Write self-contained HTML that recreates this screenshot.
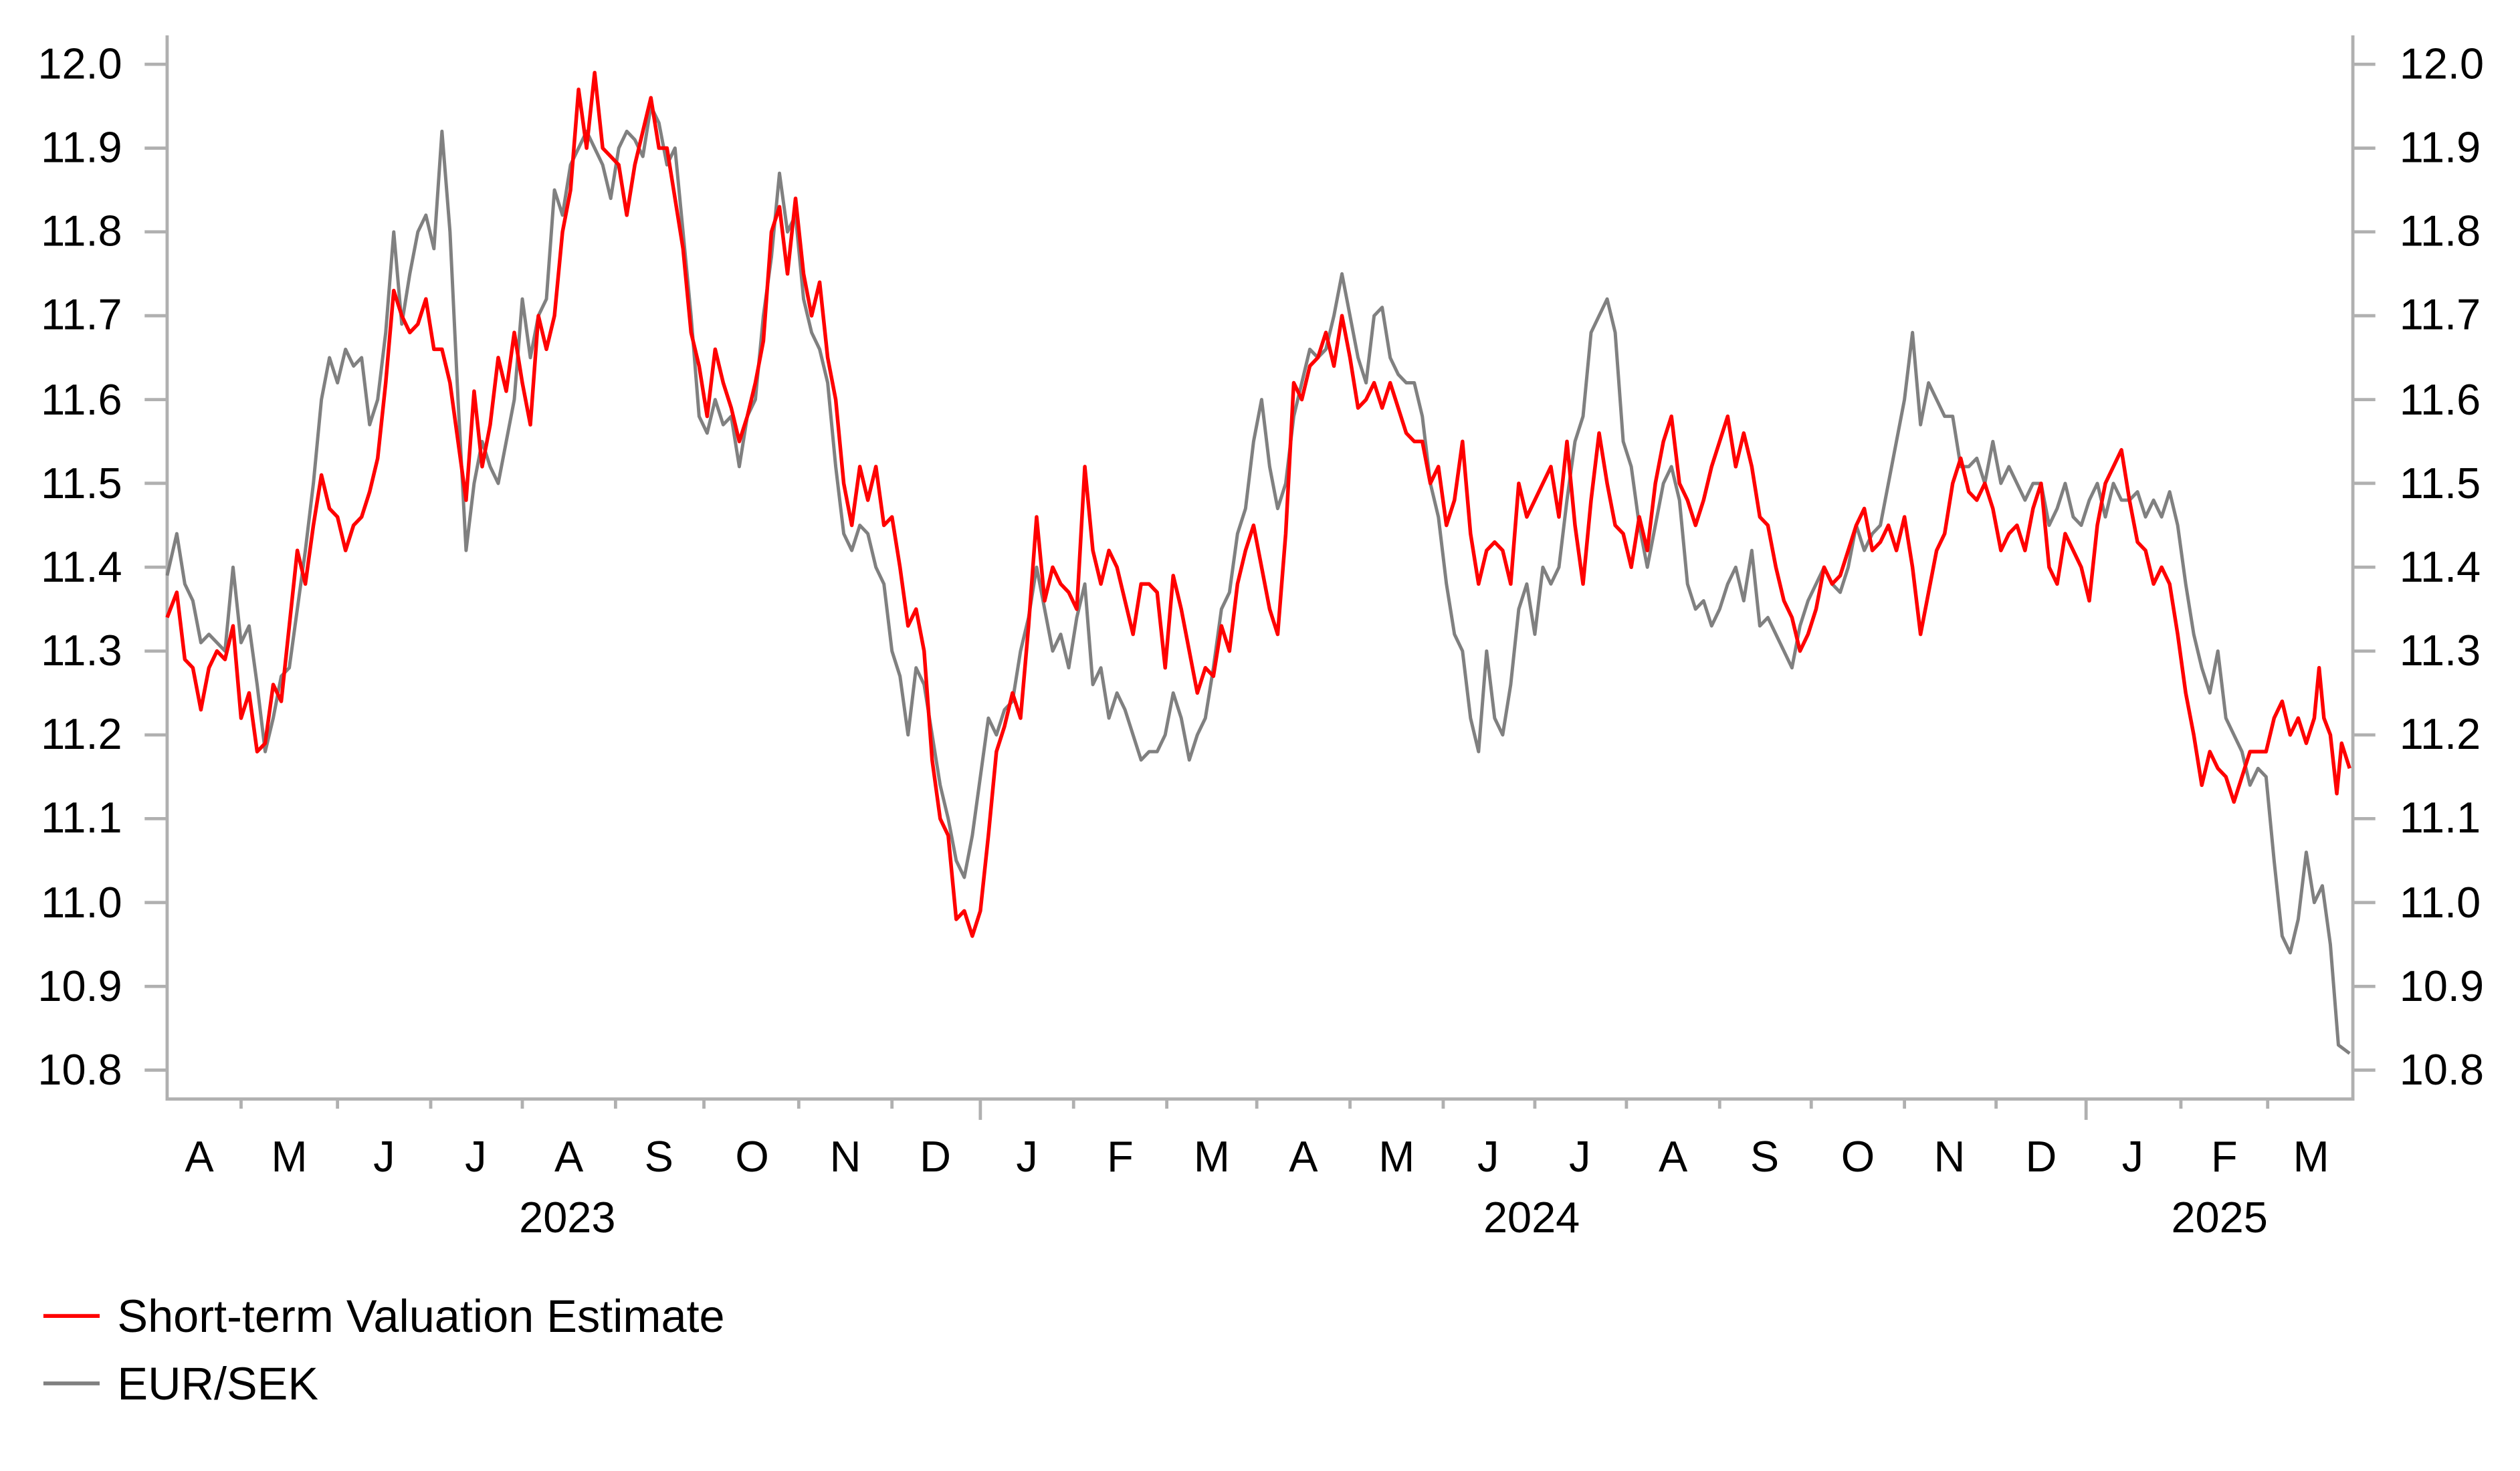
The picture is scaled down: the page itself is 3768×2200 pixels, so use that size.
<!DOCTYPE html>
<html><head><meta charset="utf-8"><style>
html,body{margin:0;padding:0;background:#fff;}
svg{display:block;}
text{font-family:"Liberation Sans",Arial,sans-serif;fill:#000;}
</style></head><body>
<svg width="3768" height="2200" viewBox="0 0 1568 915.5" preserveAspectRatio="none" xmlns="http://www.w3.org/2000/svg">
<g stroke="#b0b0b0" stroke-width="2" fill="none">
<path d="M104,22 V684 H1464 V22"/>
<path d="M90,40H104M90,92.2H104M90,144.3H104M90,196.5H104M90,248.7H104M90,300.8H104M90,353H104M90,405.2H104M90,457.4H104M90,509.5H104M90,561.7H104M90,613.9H104M90,666H104"/>
<path d="M1464,40H1478M1464,92.2H1478M1464,144.3H1478M1464,196.5H1478M1464,248.7H1478M1464,300.8H1478M1464,353H1478M1464,405.2H1478M1464,457.4H1478M1464,509.5H1478M1464,561.7H1478M1464,613.9H1478M1464,666H1478"/>
<path d="M150,684V690M210,684V690M268,684V690M325,684V690M383,684V690M438,684V690M497,684V690M555,684V690M610,684V697M668,684V690M726,684V690M782,684V690M840,684V690M898,684V690M955,684V690M1012,684V690M1070,684V690M1127,684V690M1185,684V690M1242,684V690M1298,684V697M1357,684V690M1411,684V690"/>
</g>
<g font-size="27" text-anchor="end">
<text x="76" y="49">12.0</text><text x="76" y="101">11.9</text><text x="76" y="153">11.8</text><text x="76" y="205">11.7</text><text x="76" y="258">11.6</text><text x="76" y="310">11.5</text><text x="76" y="362">11.4</text><text x="76" y="414">11.3</text><text x="76" y="466">11.2</text><text x="76" y="518">11.1</text><text x="76" y="571">11.0</text><text x="76" y="623">10.9</text><text x="76" y="675">10.8</text>
</g>
<g font-size="27" text-anchor="start">
<text x="1493" y="49">12.0</text><text x="1493" y="101">11.9</text><text x="1493" y="153">11.8</text><text x="1493" y="205">11.7</text><text x="1493" y="258">11.6</text><text x="1493" y="310">11.5</text><text x="1493" y="362">11.4</text><text x="1493" y="414">11.3</text><text x="1493" y="466">11.2</text><text x="1493" y="518">11.1</text><text x="1493" y="571">11.0</text><text x="1493" y="623">10.9</text><text x="1493" y="675">10.8</text>
</g>
<g font-size="27" text-anchor="middle">
<text x="124" y="729">A</text><text x="180" y="729">M</text><text x="239" y="729">J</text><text x="296" y="729">J</text><text x="354" y="729">A</text><text x="410" y="729">S</text><text x="468" y="729">O</text><text x="526" y="729">N</text><text x="582" y="729">D</text><text x="639" y="729">J</text><text x="697" y="729">F</text><text x="754" y="729">M</text><text x="811" y="729">A</text><text x="869" y="729">M</text><text x="926" y="729">J</text><text x="983" y="729">J</text><text x="1041" y="729">A</text><text x="1098" y="729">S</text><text x="1156" y="729">O</text><text x="1213" y="729">N</text><text x="1270" y="729">D</text><text x="1327" y="729">J</text><text x="1384" y="729">F</text><text x="1438" y="729">M</text>
<text x="353" y="767">2023</text><text x="953" y="767">2024</text><text x="1381" y="767">2025</text>
</g>
<g transform="translate(0,6300.4) scale(1,-521.7)" fill="none" stroke-linejoin="round">
<polyline vector-effect="non-scaling-stroke" stroke="#808080" stroke-width="5" points="104,11.39 110,11.44 115,11.38 120,11.36 125,11.31 130,11.32 135,11.31 140,11.30 145,11.40 150,11.31 155,11.33 160,11.26 165,11.18 170,11.22 175,11.27 180,11.28 185,11.35 190,11.42 195,11.50 200,11.60 205,11.65 210,11.62 215,11.66 220,11.64 225,11.65 230,11.57 235,11.60 240,11.68 245,11.80 250,11.69 255,11.75 260,11.80 265,11.82 270,11.78 275,11.92 280,11.80 285,11.60 290,11.42 295,11.50 300,11.55 305,11.52 310,11.50 315,11.55 320,11.60 325,11.72 330,11.65 335,11.70 340,11.72 345,11.85 350,11.82 355,11.88 360,11.90 365,11.92 370,11.90 375,11.88 380,11.84 385,11.90 390,11.92 395,11.91 400,11.89 405,11.95 410,11.93 415,11.88 420,11.90 425,11.80 430,11.70 435,11.58 440,11.56 445,11.60 450,11.57 455,11.58 460,11.52 465,11.58 470,11.60 475,11.70 480,11.77 485,11.87 490,11.80 495,11.82 500,11.72 505,11.68 510,11.66 515,11.62 520,11.52 525,11.44 530,11.42 535,11.45 540,11.44 545,11.40 550,11.38 555,11.30 560,11.27 565,11.20 570,11.28 575,11.26 580,11.20 585,11.14 590,11.10 595,11.05 600,11.03 605,11.08 610,11.15 615,11.22 620,11.20 625,11.23 630,11.24 635,11.30 640,11.34 645,11.40 650,11.35 655,11.30 660,11.32 665,11.28 670,11.34 675,11.38 680,11.26 685,11.28 690,11.22 695,11.25 700,11.23 705,11.20 710,11.17 715,11.18 720,11.18 725,11.20 730,11.25 735,11.22 740,11.17 745,11.20 750,11.22 755,11.28 760,11.35 765,11.37 770,11.44 775,11.47 780,11.55 785,11.60 790,11.52 795,11.47 800,11.50 805,11.58 810,11.62 815,11.66 820,11.65 825,11.66 830,11.70 835,11.75 840,11.70 845,11.65 850,11.62 855,11.70 860,11.71 865,11.65 870,11.63 875,11.62 880,11.62 885,11.58 890,11.50 895,11.46 900,11.38 905,11.32 910,11.30 915,11.22 920,11.18 925,11.30 930,11.22 935,11.20 940,11.26 945,11.35 950,11.38 955,11.32 960,11.40 965,11.38 970,11.40 975,11.48 980,11.55 985,11.58 990,11.68 995,11.70 1000,11.72 1005,11.68 1010,11.55 1015,11.52 1020,11.45 1025,11.40 1030,11.45 1035,11.50 1040,11.52 1045,11.48 1050,11.38 1055,11.35 1060,11.36 1065,11.33 1070,11.35 1075,11.38 1080,11.40 1085,11.36 1090,11.42 1095,11.33 1100,11.34 1105,11.32 1110,11.30 1115,11.28 1120,11.33 1125,11.36 1130,11.38 1135,11.40 1140,11.38 1145,11.37 1150,11.40 1155,11.45 1160,11.42 1165,11.44 1170,11.45 1175,11.50 1180,11.55 1185,11.60 1190,11.68 1195,11.57 1200,11.62 1205,11.60 1210,11.58 1215,11.58 1220,11.52 1225,11.52 1230,11.53 1235,11.50 1240,11.55 1245,11.50 1250,11.52 1255,11.50 1260,11.48 1265,11.50 1270,11.50 1275,11.45 1280,11.47 1285,11.50 1290,11.46 1295,11.45 1300,11.48 1305,11.50 1310,11.46 1315,11.50 1320,11.48 1325,11.48 1330,11.49 1335,11.46 1340,11.48 1345,11.46 1350,11.49 1355,11.45 1360,11.38 1365,11.32 1370,11.28 1375,11.25 1380,11.30 1385,11.22 1390,11.20 1395,11.18 1400,11.14 1405,11.16 1410,11.15 1415,11.05 1420,10.96 1425,10.94 1430,10.98 1435,11.06 1440,11.00 1445,11.02 1450,10.95 1455,10.83 1462,10.82"/>
<polyline vector-effect="non-scaling-stroke" stroke="#ff0000" stroke-width="5.5" points="104,11.34 110,11.37 115,11.29 120,11.28 125,11.23 130,11.28 135,11.30 140,11.29 145,11.33 150,11.22 155,11.25 160,11.18 165,11.19 170,11.26 175,11.24 180,11.33 185,11.42 190,11.38 195,11.45 200,11.51 205,11.47 210,11.46 215,11.42 220,11.45 225,11.46 230,11.49 235,11.53 240,11.62 245,11.73 250,11.70 255,11.68 260,11.69 265,11.72 270,11.66 275,11.66 280,11.62 285,11.55 290,11.48 295,11.61 300,11.52 305,11.57 310,11.65 315,11.61 320,11.68 325,11.62 330,11.57 335,11.70 340,11.66 345,11.70 350,11.80 355,11.85 360,11.97 365,11.90 370,11.99 375,11.90 380,11.89 385,11.88 390,11.82 395,11.88 400,11.92 405,11.96 410,11.90 415,11.90 420,11.84 425,11.78 430,11.68 435,11.64 440,11.58 445,11.66 450,11.62 455,11.59 460,11.55 465,11.58 470,11.62 475,11.67 480,11.80 485,11.83 490,11.75 495,11.84 500,11.75 505,11.70 510,11.74 515,11.65 520,11.60 525,11.50 530,11.45 535,11.52 540,11.48 545,11.52 550,11.45 555,11.46 560,11.40 565,11.33 570,11.35 575,11.30 580,11.17 585,11.10 590,11.08 595,10.98 600,10.99 605,10.96 610,10.99 615,11.08 620,11.18 625,11.21 630,11.25 635,11.22 640,11.33 645,11.46 650,11.36 655,11.40 660,11.38 665,11.37 670,11.35 675,11.52 680,11.42 685,11.38 690,11.42 695,11.40 700,11.36 705,11.32 710,11.38 715,11.38 720,11.37 725,11.28 730,11.39 735,11.35 740,11.30 745,11.25 750,11.28 755,11.27 760,11.33 765,11.30 770,11.38 775,11.42 780,11.45 785,11.40 790,11.35 795,11.32 800,11.44 805,11.62 810,11.60 815,11.64 820,11.65 825,11.68 830,11.64 835,11.70 840,11.65 845,11.59 850,11.60 855,11.62 860,11.59 865,11.62 870,11.59 875,11.56 880,11.55 885,11.55 890,11.50 895,11.52 900,11.45 905,11.48 910,11.55 915,11.44 920,11.38 925,11.42 930,11.43 935,11.42 940,11.38 945,11.50 950,11.46 955,11.48 960,11.50 965,11.52 970,11.46 975,11.55 980,11.45 985,11.38 990,11.48 995,11.56 1000,11.50 1005,11.45 1010,11.44 1015,11.40 1020,11.46 1025,11.42 1030,11.50 1035,11.55 1040,11.58 1045,11.50 1050,11.48 1055,11.45 1060,11.48 1065,11.52 1070,11.55 1075,11.58 1080,11.52 1085,11.56 1090,11.52 1095,11.46 1100,11.45 1105,11.40 1110,11.36 1115,11.34 1120,11.30 1125,11.32 1130,11.35 1135,11.40 1140,11.38 1145,11.39 1150,11.42 1155,11.45 1160,11.47 1165,11.42 1170,11.43 1175,11.45 1180,11.42 1185,11.46 1190,11.40 1195,11.32 1200,11.37 1205,11.42 1210,11.44 1215,11.50 1220,11.53 1225,11.49 1230,11.48 1235,11.50 1240,11.47 1245,11.42 1250,11.44 1255,11.45 1260,11.42 1265,11.47 1270,11.50 1275,11.40 1280,11.38 1285,11.44 1290,11.42 1295,11.40 1300,11.36 1305,11.45 1310,11.50 1315,11.52 1320,11.54 1325,11.48 1330,11.43 1335,11.42 1340,11.38 1345,11.40 1350,11.38 1355,11.32 1360,11.25 1365,11.20 1370,11.14 1375,11.18 1380,11.16 1385,11.15 1390,11.12 1395,11.15 1400,11.18 1405,11.18 1410,11.18 1415,11.22 1420,11.24 1425,11.20 1430,11.22 1435,11.19 1440,11.22 1443,11.28 1446,11.22 1450,11.20 1454,11.13 1457,11.19 1462,11.16"/>
</g>
<line x1="27" y1="819" x2="62" y2="819" stroke="#ff0000" stroke-width="2.4"/>
<line x1="27" y1="861" x2="62" y2="861" stroke="#808080" stroke-width="2.4"/>
<g font-size="28.5">
<text x="73" y="829">Short-term Valuation Estimate</text>
<text x="73" y="871">EUR/SEK</text>
</g>
</svg>
</body></html>
